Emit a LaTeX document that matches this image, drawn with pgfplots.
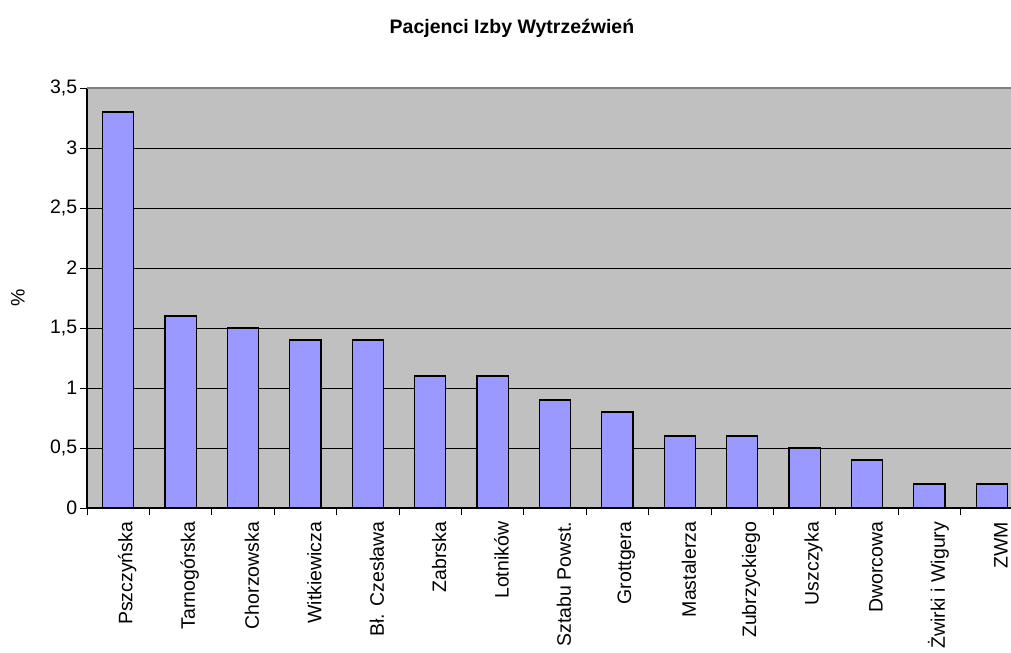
\documentclass[border=0pt]{standalone}
\usepackage{fontspec}
\setmainfont{Liberation Sans}
\usepackage{pgfplots}
\pgfplotsset{compat=1.18}
\definecolor{plotbg}{HTML}{C0C0C0}
\definecolor{barfill}{HTML}{9999FF}
\definecolor{frame}{HTML}{808080}
\newlength\px
\setlength\px{0.513pt}
\begin{document}
\fontsize{10}{12}\selectfont
\begin{tikzpicture}
\path[use as bounding box] (-87\px,-144\px) rectangle (924\px,508\px);
\begin{axis}[
    scale only axis,
    width=936\px, height=420\px,
    xmin=-0.5, xmax=14.5,
    ymin=0, ymax=3.5,
    ytick={0,0.5,...,3.5},
    xtick={0,...,14},
    xticklabels={Pszczyńska, Tarnogórska, Chorzowska, Witkiewicza, Bł. Czesława, Zabrska, Lotników, Sztabu Powst., Grottgera, Mastalerza, Zubrzyckiego, Uszczyka, Dworcowa, Żwirki i Wigury, ZWM},
    minor xtick={-0.5,0.5,...,14.5},
    axis x line*=bottom, axis y line*=left,
    axis line style={black, line width=0.6pt},
    tick align=outside,
    major tick length=7\px, minor tick length=7\px,
    major x tick style={draw=none},
    tick style={black, line width=0.5pt},
    ymajorgrids, grid style={black, line width=0.4pt},
    axis background/.style={fill=plotbg},
    /pgf/number format/assume math mode=true,
    /pgf/number format/use comma,
    xticklabel style={rotate=90, anchor=east, yshift=-9\px},
    yticklabel style={xshift=4\px},
    ylabel={\%},
    ylabel style={at={(rel axis cs:-0.0737,0.5)}, anchor=center},
    clip=false,
]
\addplot[ybar, bar width=0.5, fill=barfill, draw=black, line width=0.6pt] coordinates {
    (0,3.3) (1,1.6) (2,1.5) (3,1.4) (4,1.4) (5,1.1) (6,1.1) (7,0.9)
    (8,0.8) (9,0.6) (10,0.6) (11,0.5) (12,0.4) (13,0.2) (14,0.2)
};
\draw[frame, line width=1pt] (rel axis cs:0,1) -- (rel axis cs:1,1);
\node[font=\bfseries] at (rel axis cs:0.454,1.142) {Pacjenci Izby Wytrzeźwień};
\end{axis}
\end{tikzpicture}
\end{document}
